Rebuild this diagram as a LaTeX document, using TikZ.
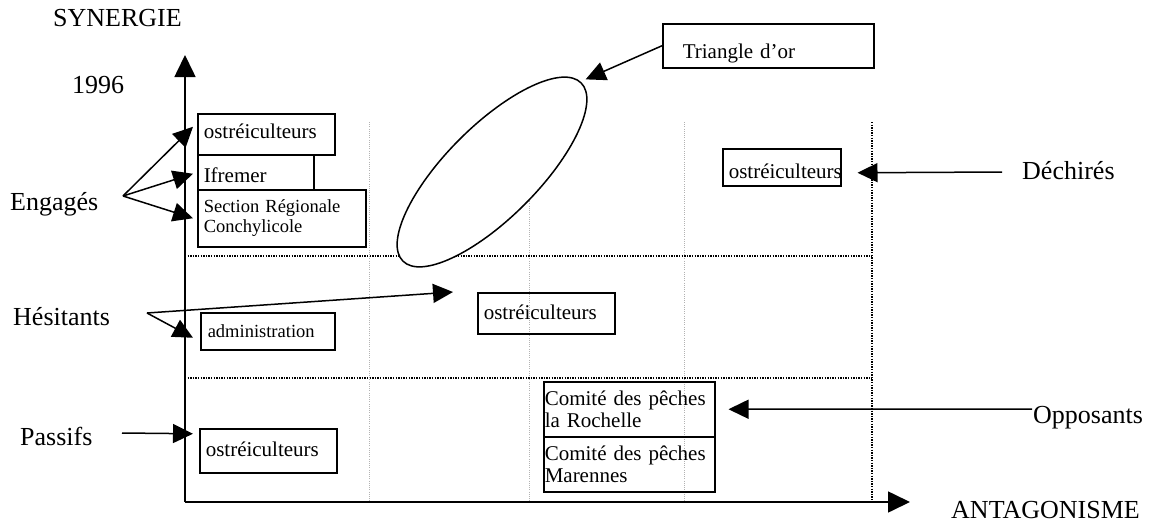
\documentclass[tikz,border=0pt]{standalone}
\usepackage{fontspec}
\setmainfont{Liberation Serif}
\usetikzlibrary{arrows.meta,shapes.geometric}
\begin{document}
\begin{tikzpicture}[x=1pt,y=-1pt,
  lbl/.style={anchor=base west,inner sep=0pt,font=\fontsize{26}{30}\selectfont},
  box/.style={draw,line width=1.5pt,inner sep=0pt,anchor=north west,align=left,
    font=\fontsize{21}{22}\selectfont},
  smallbox/.style={box,font=\fontsize{18.5}{20}\selectfont},
  arr/.style={line width=1.5pt,-{Triangle[length=20pt,width=19pt]}},
  axis/.style={line width=1.6pt,-{Triangle[length=22pt,width=21pt]}},
  gridgray/.style={line width=1pt,gray!60,dash pattern=on 1pt off 1.2pt},
  gridblack/.style={line width=1.3pt,black,dash pattern=on 1.3pt off 1.3pt},
  ]
\useasboundingbox (0,0) rectangle (1151,522);

% grid of the matrix
\draw[gridgray] (369,122) -- (369,502);
\draw[gridgray] (529,122) -- (529,502);
\draw[gridgray] (684,122) -- (684,502);
\draw[gridblack] (872,122) -- (872,502);
\draw[gridblack] (185,256) -- (872,256);
\draw[gridblack] (185,378) -- (872,378);

% axes
\coordinate (o) at (185,502);
\coordinate (ytip) at (185,55);
\coordinate (xtip) at (910,502);
\draw[axis] (o) -- (ytip);
\draw[axis] (o) -- (xtip);

% axis and group labels
\node[lbl] (syn) at (53,27) {SYNERGIE};
\node[lbl] (yr) at (72,93) {1996};
\node[lbl] (ant) at (951,518) {ANTAGONISME};
\node[lbl] (eng) at (10,210) {Engagés};
\node[lbl] (hes) at (13,325) {Hésitants};
\node[lbl] (pas) at (20,445) {Passifs};
\node[lbl] (dec) at (1022,179) {Déchirés};
\node[lbl] (opp) at (1033,423) {Opposants};

% actors
\node[box,minimum width=137pt,minimum height=41pt,text width=125pt,
  text height=12pt,text depth=3pt] (b1) at (197,113) {ostréiculteurs};
\node[box,minimum width=116pt,minimum height=35pt,text width=104pt,
  text height=21pt,text depth=0pt] (ifr) at (197,154) {Ifremer};
\node[smallbox,minimum width=168pt,minimum height=57pt,text width=156pt]
  (sec) at (197,189) {Section Régionale\\Conchylicole};
\node[box,minimum width=211pt,minimum height=44pt,text width=171pt,
  text height=26pt,text depth=0pt] (tri) at (662,23) {Triangle d’or};
\node[box,minimum width=118pt,minimum height=37pt,text width=106pt,
  text height=23pt,text depth=0pt] (dch) at (722,148) {ostréiculteurs};
\node[box,minimum width=137pt,minimum height=41pt,text width=125pt,
  text height=16pt,text depth=3pt] (mid) at (477,292) {ostréiculteurs};
\node[smallbox,minimum width=134pt,minimum height=37pt,text width=120pt,
  text height=13pt,text depth=0pt] (adm) at (200,312) {administration};
\node[box,minimum width=137pt,minimum height=44pt,text width=125pt,
  text height=15pt,text depth=3pt] (bot) at (199,428) {ostréiculteurs};
\node[box,minimum width=171pt,minimum height=55pt,text width=169pt]
  (roch) at (543,381) {Comité des pêches\\la Rochelle};
\node[box,minimum width=171pt,minimum height=55pt,text width=169pt]
  (mar) at (543,436) {Comité des pêches\\Marennes};

% the golden triangle zone
\node[draw,ellipse,fill=white,line width=1.5pt,minimum width=252pt,
  minimum height=92pt,inner sep=0pt,rotate=45] (gold) at (492,172) {};

% arrow origins
\coordinate (engO) at (123,196);
\coordinate (hesO) at (147,313);
\coordinate (pasO) at (122,433);
\coordinate (decO) at (1002,172);
\coordinate (oppO) at (1032,409);

% arrows
\draw[arr] (engO) -- ([xshift=-4pt,yshift=7.5pt]b1.west);
\draw[arr] (engO) -- ([xshift=-4pt,yshift=-1.5pt]ifr.west);
\draw[arr] (engO) -- ([xshift=-4pt]sec.west);
\draw[arr] (hesO) -- ([xshift=-24pt]mid.north west);
\draw[arr] (hesO) -- ([xshift=-7pt,yshift=-6.5pt]adm.west);
\draw[arr] (pasO) -- ([xshift=-6pt,yshift=17pt]bot.west);
\draw[arr] (decO) -- ([xshift=16pt,yshift=-5.5pt]dch.east);
\draw[arr] (oppO) -- ([xshift=13pt]roch.east);
\draw[arr] (tri.west) -- ([xshift=4pt,yshift=3pt]gold.east);
\end{tikzpicture}
\end{document}
